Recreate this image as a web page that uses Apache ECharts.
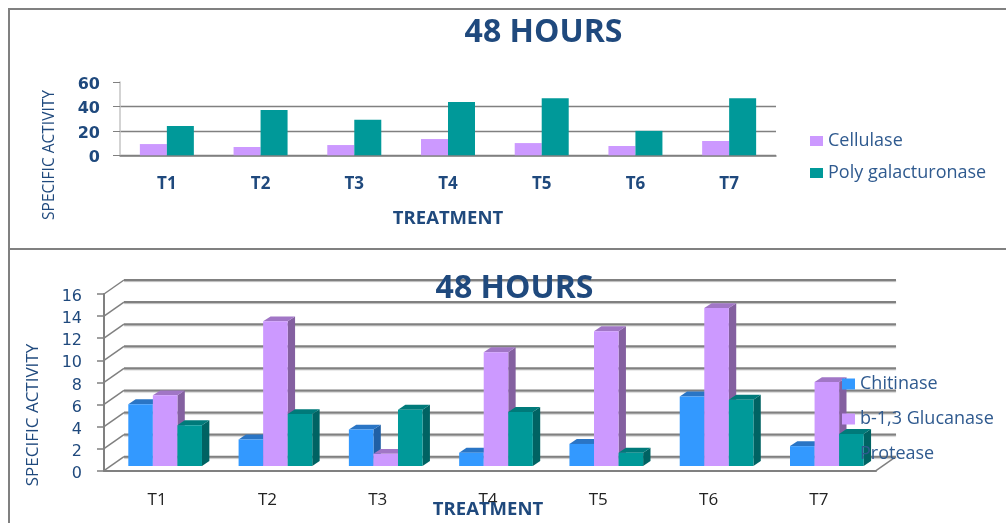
<!DOCTYPE html>
<html><head><meta charset="utf-8">
<style>html,body{margin:0;padding:0;background:#fff}#c{width:1006px;height:523px}</style>
<script src="https://cdn.jsdelivr.net/npm/echarts@6/dist/echarts.min.js"></script>
</head><body><div id="c"></div>
<script>
const categories = ['T1','T2','T3','T4','T5','T6','T7'];
const cellulase = [9.2,6.8,8.4,13.3,10,7.6,11.7];
const polyGalacturonase = [24,37,29,43.6,46.8,20,46.8];
const chitinase = [5.6,2.4,3.3,1.2,2.0,6.3,1.8];
const glucanase = [6.4,13.1,1.1,10.3,12.2,14.3,7.6];
const protease = [3.7,4.7,5.1,4.9,1.2,6.0,2.9];
const bottomTicks = [0,2,4,6,8,10,12,14,16];

const NAVY = '#1f497d', GRAY = '#808080', FONT = '"Open Sans"';
const chart = echarts.init(document.getElementById('c'));

const enzymes = [
  {name:'Chitinase', values:chitinase, front:'#3399ff', top:'#2a75c5', side:'#2060a5'},
  {name:'b-1,3 Glucanase', values:glucanase, front:'#cc99ff', top:'#a176c6', side:'#8460a0'},
  {name:'Protease', values:protease, front:'#009999', top:'#007a7a', side:'#006363'}
];

function bar3d(k, color) {
  return function (params, api) {
    const band = api.size([1, 0])[0];
    const w = band * 0.2227, dx = w * 0.3, dy = w * 0.2;
    const p = api.coord([api.value(0), api.value(1)]);
    const p0 = api.coord([api.value(0), 0]);
    const lift = 4.7, shift = 6;
    const l = p[0] + shift + (k - 1.5) * w, r = l + w, t = p[1] - lift, b = p0[1] - lift;
    return {type:'group', children:[
      {type:'polygon', shape:{points:[[r,t],[r+dx,t-dy],[r+dx,b-dy],[r,b]]}, style:{fill:color.side}},
      {type:'polygon', shape:{points:[[l,t],[l+dx,t-dy],[r+dx,t-dy],[r,t]]}, style:{fill:color.top}},
      {type:'rect', shape:{x:l, y:t, width:w, height:b-t}, style:{fill:color.front}}
    ]};
  };
}

function wall(params, api) {
  const y = api.coord([0, api.value(0)])[1];
  const c = params.coordSys, dx = 20, dy = 14;
  const kids = [
    {type:'line', shape:{x1:c.x, y1:y, x2:c.x+dx, y2:y-dy}, style:{stroke:GRAY, lineWidth:1.5}},
    {type:'line', shape:{x1:c.x+dx, y1:y-dy, x2:c.x+c.width+dx, y2:y-dy}, style:{stroke:GRAY, lineWidth:2, shadowColor:'#bbb', shadowBlur:1, shadowOffsetY:1}}
  ];
  if (api.value(0) === 0) kids.push({type:'line', shape:{x1:c.x+c.width, y1:y, x2:c.x+c.width+dx, y2:y-dy}, style:{stroke:GRAY, lineWidth:1.5}});
  return {type:'group', children:kids};
}

const bottomSeries = enzymes.map((e,k) => ({
  name:e.name, type:'custom', xAxisIndex:1, yAxisIndex:1, clip:false, z:3+k,
  itemStyle:{color:e.front}, renderItem:bar3d(k,e), encode:{x:0,y:1},
  data:categories.map((c,i)=>[c,e.values[i]])
}));

chart.setOption({
  animation:false, backgroundColor:'#fff',
  title:[
    {text:'48 HOURS', left:538.5, top:12, textAlign:'center', textStyle:{color:NAVY, fontFamily:FONT, fontWeight:'bold', fontSize:32}},
    {text:'48 HOURS', left:509.5, top:268, textAlign:'center', z:20, textStyle:{color:NAVY, fontFamily:FONT, fontWeight:'bold', fontSize:32}}
  ],
  legend:[
    {orient:'vertical', left:805, top:127, itemWidth:13, itemHeight:10, itemGap:14, icon:'rect', selectedMode:false,
     data:['Cellulase','Poly galacturonase'],
     textStyle:{color:'#2f5a8f', fontFamily:FONT, fontSize:18, lineHeight:18}},
    {orient:'vertical', left:837, top:370, itemWidth:13, itemHeight:11, itemGap:17, icon:'rect', selectedMode:false, z:20,
     data:enzymes.map(e=>e.name),
     textStyle:{color:'#2f5a8f', fontFamily:FONT, fontSize:18, lineHeight:18}}
  ],
  grid:[
    {left:120, top:82, width:656, height:73.3},
    {left:104, top:294, width:772, height:176.7}
  ],
  xAxis:[
    {gridIndex:0, type:'category', data:categories,
     axisLine:{lineStyle:{color:GRAY, width:1.5}}, axisTick:{show:false},
     axisLabel:{color:NAVY, fontFamily:FONT, fontWeight:'bold', fontSize:17, margin:20},
     name:'TREATMENT', nameLocation:'middle', nameGap:54,
     nameTextStyle:{color:NAVY, fontFamily:FONT, fontWeight:'bold', fontSize:18.5}},
    {gridIndex:1, type:'category', data:categories,
     axisLine:{lineStyle:{color:GRAY, width:2}}, axisTick:{show:false},
     axisLabel:{color:'#222', fontFamily:FONT, fontSize:17, margin:21, padding:[0,4,0,0]}}
  ],
  yAxis:[
    {gridIndex:0, type:'value', min:0, max:60, interval:20,
     axisLine:{show:true, lineStyle:{color:'#c4c4c4', width:1.5}},
     axisTick:{show:true, length:7, lineStyle:{color:GRAY}},
     splitLine:{show:true, showMaxLine:false, lineStyle:{color:GRAY, width:1.3}},
     axisLabel:{color:NAVY, fontFamily:'DejaVu Sans', fontWeight:'bold', fontSize:16, margin:20, verticalAlign:'top', lineHeight:5}},
    {gridIndex:1, type:'value', min:0, max:16, interval:2,
     axisLine:{show:true, lineStyle:{color:GRAY, width:2}},
     axisTick:{show:true, length:7, lineStyle:{color:GRAY, width:1.5}},
     splitLine:{show:false},
     axisLabel:{color:NAVY, fontFamily:'DejaVu Sans', fontSize:16, margin:22, verticalAlign:'top', lineHeight:6}}
  ],
  series:[
    {name:'Cellulase', type:'bar', xAxisIndex:0, yAxisIndex:0, data:cellulase, barWidth:27, barGap:'0%', itemStyle:{color:'#cc99ff'}, z:3},
    {name:'Poly galacturonase', type:'bar', xAxisIndex:0, yAxisIndex:0, data:polyGalacturonase, barWidth:27, barGap:'0%', itemStyle:{color:'#009999'}, z:3},
    {name:'wall', type:'custom', xAxisIndex:1, yAxisIndex:1, clip:false, z:1, renderItem:wall, encode:{y:0}, data:bottomTicks.map(v=>[v])}
  ].concat(bottomSeries),
  graphic:[
    {type:'rect', silent:true, z:0, shape:{x:9,y:9,width:1100,height:240}, style:{fill:'none', stroke:GRAY, lineWidth:2}},
    {type:'rect', silent:true, z:0, shape:{x:9,y:249,width:1100,height:400}, style:{fill:'none', stroke:GRAY, lineWidth:2}},
    {type:'text', silent:true, z:20, x:50, y:155, rotation:Math.PI/2, style:{text:'SPECIFIC ACTIVITY', fill:NAVY, font:'15.5px "Open Sans"', align:'center', verticalAlign:'middle'}},
    {type:'text', silent:true, z:20, x:33, y:415, rotation:Math.PI/2, style:{text:'SPECIFIC ACTIVITY', fill:NAVY, font:'17px "Open Sans"', align:'center', verticalAlign:'middle'}},
    {type:'text', silent:true, z:20, x:488, y:510, style:{text:'TREATMENT', fill:NAVY, font:'bold 18.5px "Open Sans"', align:'center', verticalAlign:'middle'}}
  ]
});
</script></body></html>
